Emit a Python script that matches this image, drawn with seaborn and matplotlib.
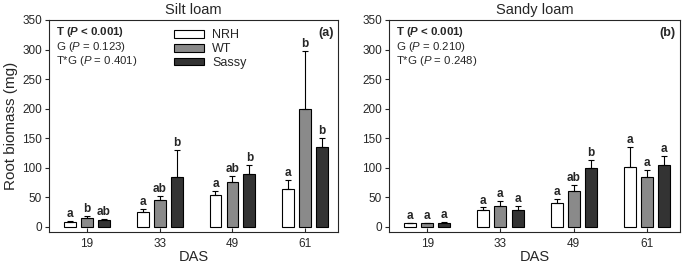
import matplotlib
matplotlib.use("Agg")
import matplotlib.pyplot as plt
import seaborn as sns
import pandas as pd
import numpy as np

# data
das = ["19", "33", "49", "61"]
genotypes = ["NRH", "WT", "Sassy"]

silt_mean = {"NRH": [8, 25, 54, 65], "WT": [15, 45, 76, 200], "Sassy": [11, 85, 90, 136]}
silt_err = {"NRH": [2, 6, 7, 15], "WT": [3, 8, 10, 98], "Sassy": [2, 45, 15, 15]}
silt_letters = {"NRH": ["a", "a", "a", "a"], "WT": ["b", "ab", "ab", "b"], "Sassy": ["ab", "b", "b", "b"]}

sandy_mean = {"NRH": [6, 28, 41, 101], "WT": [6, 35, 61, 84], "Sassy": [7, 29, 99, 105]}
sandy_err = {"NRH": [1, 5, 7, 34], "WT": [1, 9, 10, 13], "Sassy": [1, 6, 15, 15]}
sandy_letters = {"NRH": ["a", "a", "a", "a"], "WT": ["a", "a", "ab", "a"], "Sassy": ["a", "a", "b", "a"]}

stat_terms = ["G (", "T*G ("]
silt_p = ["0.123", "0.401"]
sandy_p = ["0.210", "0.248"]

colors = {"NRH": "white", "WT": "#8a8a8a", "Sassy": "#333333"}

sns.set_style("ticks")
plt.rcParams["font.family"] = ["Liberation Sans", "DejaVu Sans"]
plt.rcParams["mathtext.fontset"] = "custom"
plt.rcParams["mathtext.rm"] = "Liberation Sans"
plt.rcParams["mathtext.it"] = "Liberation Sans:italic"
plt.rcParams["mathtext.bf"] = "Liberation Sans:bold"
plt.rcParams["mathtext.bfit"] = "Liberation Sans:italic:bold"


def make_df(means):
    rows = []
    for g in genotypes:
        for d, v in zip(das, means[g]):
            rows.append({"DAS": d, "Genotype": g, "biomass": v})
    return pd.DataFrame(rows)


fig = plt.figure(figsize=(6.84, 2.65), dpi=100)
ax1 = fig.add_axes([49 / 684, 33 / 265, 289 / 684, 212 / 265])
ax2 = fig.add_axes([389 / 684, 33 / 265, 291 / 684, 212 / 265])


def draw_panel(ax, means, errs, letters, title, tag, p_vals, legend):
    df = make_df(means)
    sns.barplot(data=df, x="DAS", y="biomass", hue="Genotype", order=das,
                hue_order=genotypes, palette=colors, width=0.7, gap=0.3,
                edgecolor="black", linewidth=0.8, errorbar=None,
                legend=legend, ax=ax)

    for cont, g in zip(ax.containers, genotypes):
        xs = [b.get_x() + b.get_width() / 2 for b in cont]
        hs = [b.get_height() for b in cont]
        e = np.array(errs[g])
        ax.errorbar(xs, hs, yerr=[np.zeros_like(e), e], fmt="none",
                    ecolor="black", elinewidth=0.8, capsize=2.5, capthick=0.8)
        for x, h, ee, lab in zip(xs, hs, e, letters[g]):
            ax.text(x, h + ee + 1.5, lab, ha="center", va="bottom",
                    fontsize=8.5, fontweight="bold")

    ax.set_ylim(-8.5, 350)
    ax.set_xlim(-0.52, 3.45)
    ax.set_yticks(range(0, 351, 50))
    ax.tick_params(axis="y", direction="out", length=3, width=0.8, labelsize=8.5, pad=2)
    ax.tick_params(axis="x", direction="in", length=3, width=0.8, labelsize=8.5, pad=4)
    for s in ax.spines.values():
        s.set_linewidth(0.8)
    ax.set_xlabel("DAS", fontsize=10.5, labelpad=0)
    ax.set_ylabel("")
    ax.set_title(title, fontsize=10.5, pad=4)

    ax.text(0.025, 0.942, "T ($\\bfit{P}$ < 0.001)", transform=ax.transAxes,
            fontsize=8.2, fontweight="bold", va="center", ha="left")
    for i, (lab, p) in enumerate(zip(stat_terms, p_vals)):
        ax.text(0.025, 0.873 - i * 0.066, lab + "$\\it{P}$ = " + p + ")",
                transform=ax.transAxes, fontsize=8.2, va="center", ha="left")
    ax.text(0.985, 0.938, tag, transform=ax.transAxes, fontsize=9,
            fontweight="bold", va="center", ha="right")

    if legend:
        ax.legend(loc="upper left", bbox_to_anchor=(0.4, 1.0), frameon=False,
                  fontsize=9, handlelength=2.4, handleheight=0.55,
                  labelspacing=0.15, handletextpad=0.64, borderaxespad=0.35)


draw_panel(ax1, silt_mean, silt_err, silt_letters, "Silt loam", "(a)", silt_p, True)
draw_panel(ax2, sandy_mean, sandy_err, sandy_letters, "Sandy loam", "(b)", sandy_p, False)

ax1.set_ylabel("Root biomass (mg)", fontsize=11)
ax1.yaxis.set_label_coords(-0.107, 0.5)

fig.savefig("out.png", dpi=100)
